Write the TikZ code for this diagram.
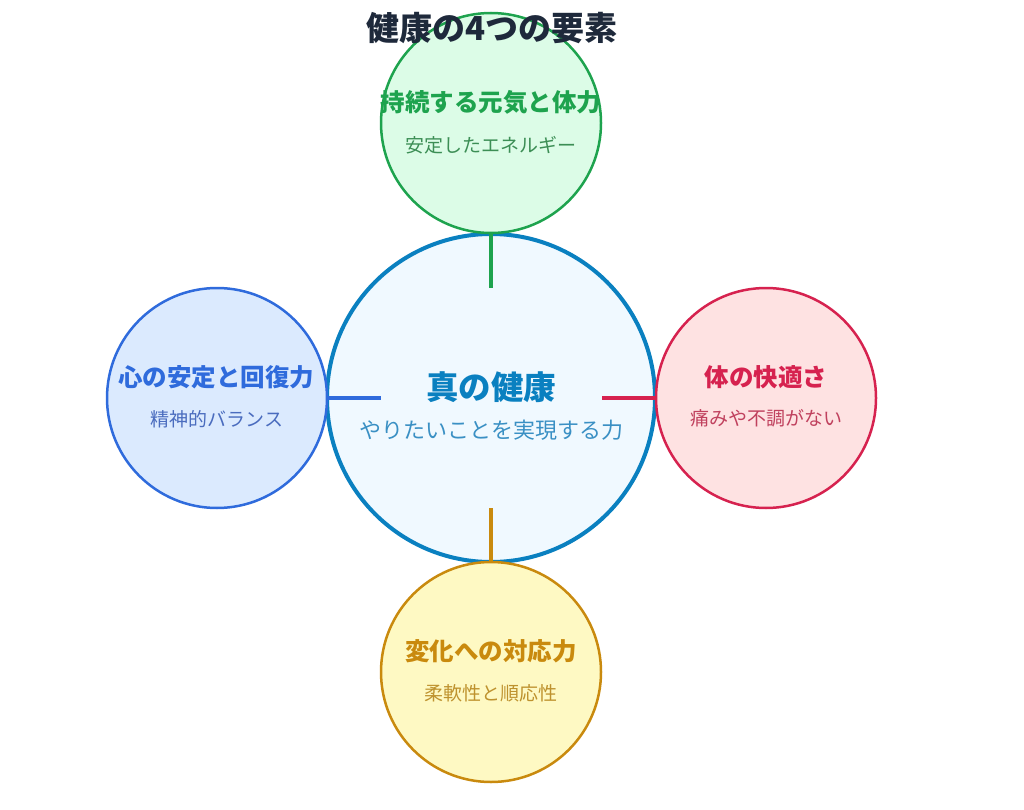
\documentclass[tikz,border=0pt]{standalone}
\usepackage{fontspec}
\setmainfont{Noto Sans CJK JP}
\definecolor{titlec}{HTML}{1E293B}
\definecolor{cfill}{HTML}{F0F9FF}
\definecolor{cdraw}{HTML}{0A80C0}
\definecolor{csub}{HTML}{3A90C4}
\definecolor{gfill}{HTML}{DCFCE7}
\definecolor{gdraw}{HTML}{1EA34E}
\definecolor{gsub}{HTML}{3C8E55}
\definecolor{bfill}{HTML}{DBEAFE}
\definecolor{bdraw}{HTML}{2F6BDC}
\definecolor{bsub}{HTML}{4A6CBE}
\definecolor{rfill}{HTML}{FEE2E2}
\definecolor{rdraw}{HTML}{D6224F}
\definecolor{rsub}{HTML}{C0415E}
\definecolor{yfill}{HTML}{FEF9C3}
\definecolor{ydraw}{HTML}{C98A0E}
\definecolor{ysub}{HTML}{BE922E}
\tikzset{
  outer/.style={circle, minimum size=220pt, inner sep=0pt, line width=2.5pt},
  inner/.style={circle, minimum size=328pt, inner sep=0pt, line width=4pt, draw=cdraw, fill=cfill},
  head/.style={font=\fontsize{24.5}{28}\selectfont\bfseries},
  sub/.style={font=\fontsize{19}{22}\selectfont},
  link/.style={line width=4pt},
}
\begin{document}
\begin{tikzpicture}[x=1pt,y=-1pt]
\useasboundingbox (0,0) rectangle (1024,810);
% circles
\node[inner] (core) at (491,398) {};
\node[outer, draw=gdraw, fill=gfill] (top) at (491,123) {};
\node[outer, draw=bdraw, fill=bfill] (left) at (217,398) {};
\node[outer, draw=rdraw, fill=rfill] (right) at (766,398) {};
\node[outer, draw=ydraw, fill=yfill] (bottom) at (491,672) {};
% connector ends
\coordinate (ctop) at (491,288);
\coordinate (cleft) at (381,398);
\coordinate (cright) at (602,398);
\coordinate (cbottom) at (491,508);
\draw[link, draw=gdraw] (top.south) -- (ctop);
\draw[link, draw=bdraw] (left.east) -- (cleft);
\draw[link, draw=rdraw] (right.west) -- (cright);
\draw[link, draw=ydraw] (bottom.north) -- (cbottom);
% texts
\node[font=\fontsize{33}{36}\selectfont\bfseries, text=titlec] (title) at (492,28) {健康の4つの要素};
\node[font=\fontsize{32.5}{36}\selectfont\bfseries, text=cdraw] (coret) at (491,387) {真の健康};
\node[font=\fontsize{22}{26}\selectfont, text=csub] (cores) at (491,430) {やりたいことを実現する力};
\node[head, text=gdraw] (topt) at (491,102) {持続する元気と体力};
\node[sub, text=gsub] (tops) at (491,145) {安定したエネルギー};
\node[head, text=bdraw] (leftt) at (216,377) {心の安定と回復力};
\node[sub, text=bsub] (lefts) at (217,419) {精神的バランス};
\node[head, text=rdraw] (rightt) at (766,377) {体の快適さ};
\node[sub, text=rsub] (rights) at (766,418) {痛みや不調がない};
\node[head, text=ydraw] (bottomt) at (491,651) {変化への対応力};
\node[sub, text=ysub] (bottoms) at (491,693) {柔軟性と順応性};
\end{tikzpicture}
\end{document}
